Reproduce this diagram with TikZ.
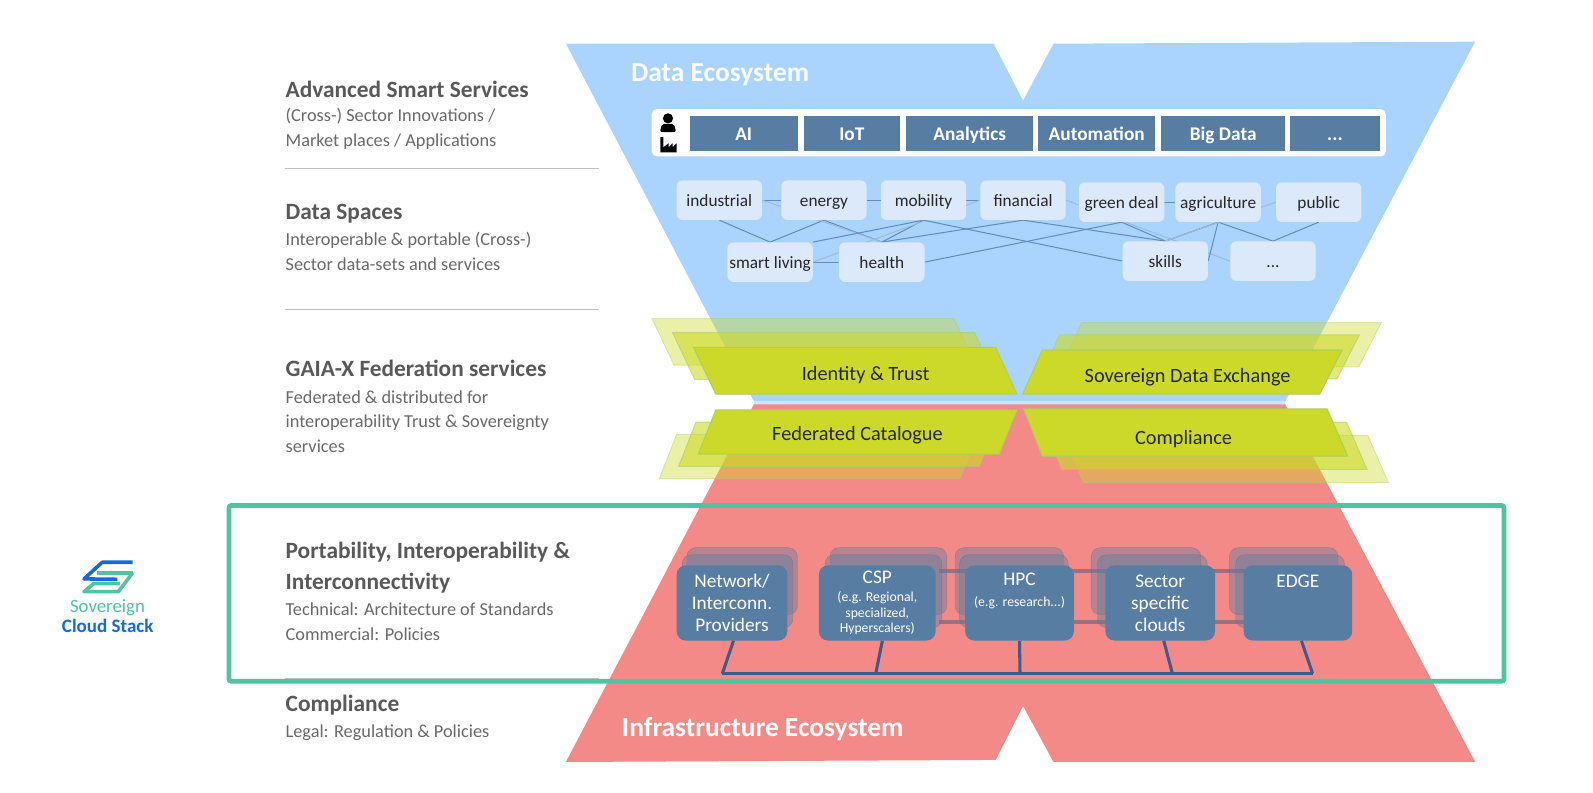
\documentclass[tikz,border=0pt]{standalone}
\usepackage{fontspec}
\setmainfont{Carlito}
\usetikzlibrary{
  backgrounds,
  positioning,
}
\definecolor{dataeco}{RGB}{170, 212, 253}
\definecolor{infraeco}{RGB}{244, 138, 135}
\definecolor{fedgreen}{RGB}{204, 217, 40}
\definecolor{fededge}{RGB}{170, 208, 95}
\definecolor{slate}{RGB}{88, 125, 163}
\definecolor{busblue}{RGB}{61, 92, 140}
\definecolor{paleblue}{RGB}{220, 233, 250}
\definecolor{linkblue}{RGB}{96, 140, 190}
\definecolor{headgray}{RGB}{89, 89, 89}
\definecolor{subgray}{RGB}{105, 105, 105}
\definecolor{scsteal}{RGB}{80, 195, 160}
\definecolor{scsblue}{RGB}{22, 104, 224}
\definecolor{linkmauve}{RGB}{160, 110, 130}
\newcommand{\notefont}{\fontsize{13.5}{14}\selectfont}
\newcommand{\etcdots}{...}
\newcommand{\cloudnode}[5]{
  \node [cloudback, minimum width=#3pt, minimum height=66pt] at (#2+#4,572) {};
  \node [cloudback, minimum width=#3pt, minimum height=72pt] at (#2+#4*.55,582) {};
  \node [cloud, minimum width=#3pt] at (#2,593.5) (#1) {#5};
}
\tikzset{
  head/.style={anchor=west, inner sep=0pt, text=headgray, font=\fontsize{23}{28}\selectfont\bfseries},
  sub/.style={anchor=north west, inner sep=0pt, align=left, text=subgray, font=\fontsize{18}{24.5}\selectfont},
  rulegray/.style={draw=black!25, line width=1pt},
  service/.style={fill=slate, text=white, minimum height=35pt, inner sep=0pt, text height=15pt, text depth=2pt, font=\fontsize{19}{22}\selectfont\bfseries},
  space/.style={fill=paleblue, rounded corners=6pt, minimum width=84pt, minimum height=39pt, inner sep=0pt, text height=14pt, text depth=2pt, text=black!85, font=\fontsize{17}{20}\selectfont},
  spacelink/.style={draw=linkblue, line width=1pt},
  spacepale/.style={draw=linkblue!60, line width=1pt},
  fed/.style={draw=fededge, line width=1pt, fill=fedgreen},
  fedlabel/.style={inner sep=0pt, text=black!85, font=\fontsize{20}{24}\selectfont},
  cloud/.style={fill=slate, rounded corners=9pt, minimum height=74pt, inner sep=0pt, align=center, text=white, font=\fontsize{19}{21.5}\selectfont},
  cloudback/.style={draw=slate!80!black, fill=slate, fill opacity=.4, draw opacity=.4, rounded corners=9pt},
  bus/.style={draw=busblue, line width=3pt},
  backlink/.style={draw=linkmauve, line width=4pt},
  eco/.style={inner sep=0pt, text=white, font=\fontsize{27}{30}\selectfont\bfseries},
}
\begin{document}
\begin{tikzpicture}[x=1pt, y=-1pt]
  \useasboundingbox (0,0) rectangle (1568,779.6);
  \fill [dataeco!60!white] (742,395) rectangle (1265,399);
  \fill [infraeco] (742,398) -- (1265,398) -- (1452,750) -- (1037,750) -- (1007,695) -- (980,748) -- (557,750) -- cycle;
  \node [eco, anchor=west, text=white!92!dataeco] at (621,74) (dataname) {Data Ecosystem};
  \node [eco, anchor=west] at (612,718) (infraname) {Infrastructure Ecosystem};

  \node [head] at (281,88) (smart) {Advanced Smart Services};
  \node [sub] at (281,106) (smartsub) {(Cross-) Sector Innovations /\\Market places / Applications};
  \draw [rulegray] (281,166) -- (590,166);
  \node [head] at (281,210) (spaces) {Data Spaces};
  \node [sub] at (281,228) (spacessub) {Interoperable \& portable (Cross-)\\Sector data-sets and services};
  \draw [rulegray] (281,305) -- (590,305);
  \node [head] at (281,363) (gaia) {GAIA-X Federation services};
  \node [sub] at (281,384) (gaiasub) {Federated \& distributed for\\interoperability Trust \& Sovereignty\\services};
  \draw [rulegray] (281,500) -- (590,500);
  \node [head] at (281,543) (port) {Portability, Interoperability \&};
  \node [head] at (281,574) (interc) {Interconnectivity};
  \node [sub] at (281,593.5) (portsub) {Technical: Architecture of Standards\\Commercial: Policies};
  \draw [rulegray] (281,668) -- (590,668);
  \node [head] at (281,694) (legal) {Compliance};
  \node [sub] at (281,713.5) (legalsub) {Legal: Regulation \& Policies};

  \fill [white, rounded corners=5pt] (641.5,107.5) rectangle (1364,154);
  \fill [black] (657.5,116.5) circle (5pt);
  \fill [black, rounded corners=2pt] (649.5,130) -- (651.5,122) -- (663.5,122) -- (665.5,130) -- cycle;
  \fill [black] (650,150) -- (650,135) -- (653,135) -- (653,145) -- (658,141) -- (658,145) -- (662,141) -- (662,145) -- (666,141) -- (666,150) -- cycle;
  \foreach \nm/\cx/\bw/\txt in {ai/732/106/AI, iot/838.5/95/IoT, analytics/954.5/125/Analytics, automation/1079.5/115/Automation, bigdata/1204/122/Big Data, svcdots/1314/88/\etcdots}
    \node [service, minimum width=\bw pt] at (\cx,131.5) (\nm) {\txt};

  \foreach \nm/\cx/\cy/\txt in {industrial/708/197/industrial, energy/811/197/energy, mobility/909/197/mobility, financial/1007/197/financial, greendeal/1104/199/green deal, agriculture/1199/199/agriculture, public/1298/199/public, smartliving/758/258/smart living, health/868/258/health, skills/1147/257/skills, spacedots/1253/257/\etcdots}
    \node [space] at (\cx,\cy) (\nm) {\txt};
  \begin{scope}[on background layer]
    \fill [dataeco] (557,43) -- (978,43) -- (1007,99) -- (1037,43) -- (1452,41) -- (1265,395) -- (742,395) -- cycle;
    \draw [spacelink] (industrial) -- (energy);
    \draw [spacelink] (energy) -- (mobility);
    \draw [spacelink] (mobility) -- (financial);
    \draw [spacelink] (greendeal) -- (agriculture);
    \draw [spacelink] (smartliving) -- (health);
    \draw [spacelink] (industrial.south) -- (smartliving.north);
    \draw [spacelink] (energy.south) -- (smartliving.north);
    \draw [spacelink] (energy.south) -- (health.north);
    \draw [spacepale] (industrial.east) -- (health.north);
    \draw [spacelink] (mobility.south) -- (health.north);
    \draw [spacelink] (mobility.south) -- (smartliving.north east);
    \draw [spacepale] (financial.west) -- (smartliving.east);
    \draw [spacelink] (financial.south) -- (health.north);
    \draw [spacelink] (financial.south) -- (skills.north);
    \draw [spacelink] (mobility.south) -- (skills.west);
    \draw [spacelink] (greendeal.south) -- (health.east);
    \draw [spacelink] (greendeal.south) -- (skills.north);
    \draw [spacepale] (financial.east) -- (spacedots.west);
    \draw [spacelink] (agriculture.south) -- (skills.north);
    \draw [spacelink] (agriculture.south) -- (skills.east);
    \draw [spacelink] (agriculture.south) -- (spacedots.north);
    \draw [spacelink] (public.south) -- (spacedots.north);
    \draw [spacepale] (public.west) -- (skills.north);
  \end{scope}

  \foreach \dx/\dy/\op in {-41/-28.5/.4, -20.7/-14.5/.6, 0/0/1}
    \draw [fed, opacity=\op, shift={(\dx pt,-\dy pt)}] (682.7,342) -- (980,342) -- (1001,388) -- (704.5,388) -- cycle;
  \foreach \dx/\dy/\op in {38.6/-27/.4, 17/-15/.6, 0/0/1}
    \draw [fed, opacity=\op, shift={(\dx pt,-\dy pt)}] (1026,344.5) -- (1321,344.5) -- (1299,388) -- (1006.6,388) -- cycle;
  \foreach \dx/\dy/\op in {-38.5/24/.4, -19.5/12/.6, 0/0/1}
    \draw [fed, opacity=\op, shift={(\dx pt,-\dy pt)}] (704.5,403.5) -- (1001,403.5) -- (983.4,447) -- (687.5,447) -- cycle;
  \foreach \dx/\dy/\op in {40/26/.4, 19/13/.6, 0/0/1}
    \draw [fed, opacity=\op, shift={(\dx pt,-\dy pt)}] (1007.6,402.5) -- (1306.3,402.5) -- (1326.6,449) -- (1026,449) -- cycle;
  \node [fedlabel] at (852,369) (identity) {Identity \& Trust};
  \node [fedlabel] at (1169,371) (exchange) {Sovereign Data Exchange};
  \node [fedlabel] at (844,428) (catalogue) {Federated Catalogue};
  \node [fedlabel] at (1165,432) (compliance) {Compliance};

  \coordinate (linkal) at (924,562);
  \coordinate (linkar) at (1225,562);
  \coordinate (linkbl) at (924,612);
  \coordinate (linkbr) at (1225,612);
  \draw [backlink] (linkal) -- (linkar);
  \draw [backlink] (linkbl) -- (linkbr);
  \cloudnode{network}{720.5}{109}{10}{Network/\\Interconn.\\Providers}
  \cloudnode{csp}{863.5}{115}{11}{CSP\\[-4pt]\notefont (e.g. Regional,\\[-6pt]\notefont specialized,\\[-6pt]\notefont Hyperscalers)}
  \cloudnode{hpc}{1003.5}{107}{-10}{HPC\\[-1pt]\notefont (e.g. research...)\\[4pt]~}
  \cloudnode{sector}{1142}{108}{-14}{Sector\\specific\\clouds}
  \cloudnode{edge}{1277.5}{107}{-14}{EDGE\\~\\~}
  \coordinate (busl) at (711,663);
  \coordinate (busr) at (1292,663);
  \coordinate (busb) at (862,663);
  \coordinate (busc) at (1004,663);
  \coordinate (busd) at (1154,663);
  \draw [bus] (busl) -- (busr);
  \draw [bus] ([xshift=1.5pt]network.south) -- (busl);
  \draw [bus] ([xshift=5pt]csp.south) -- (busb);
  \draw [bus] (hpc.south) -- (busc);
  \draw [bus] ([xshift=3.5pt]sector.south) -- (busd);
  \draw [bus] ([xshift=3.5pt]edge.south) -- (busr);

  \draw [scsteal, line width=4.6pt, rounded corners=2pt] (225.4,497.6) rectangle (1480.3,670.5);
  \draw [scsblue, line width=3.5pt, line join=round] (130.6,553.4) -- (100.6,553.4) -- (82.7,569.8) -- (115.5,570.2);
  \draw [scsteal, line width=3.5pt, line join=round] (130.6,563.8) -- (95,563.8);
  \draw [scsteal, line width=3.5pt, line join=round] (130.6,563.8) -- (116.5,582.4) -- (82.7,582.4) -- (92,574.5) -- (118,574.5);
  \node [inner sep=0pt, text=scsteal, font=\fontsize{18.5}{20}\selectfont] at (105.8,598) (scsa) {Sovereign};
  \node [inner sep=0pt, text=scsblue, font=\fontsize{18.7}{20}\selectfont\bfseries] at (106,616) (scsb) {Cloud Stack};
\end{tikzpicture}
\end{document}
